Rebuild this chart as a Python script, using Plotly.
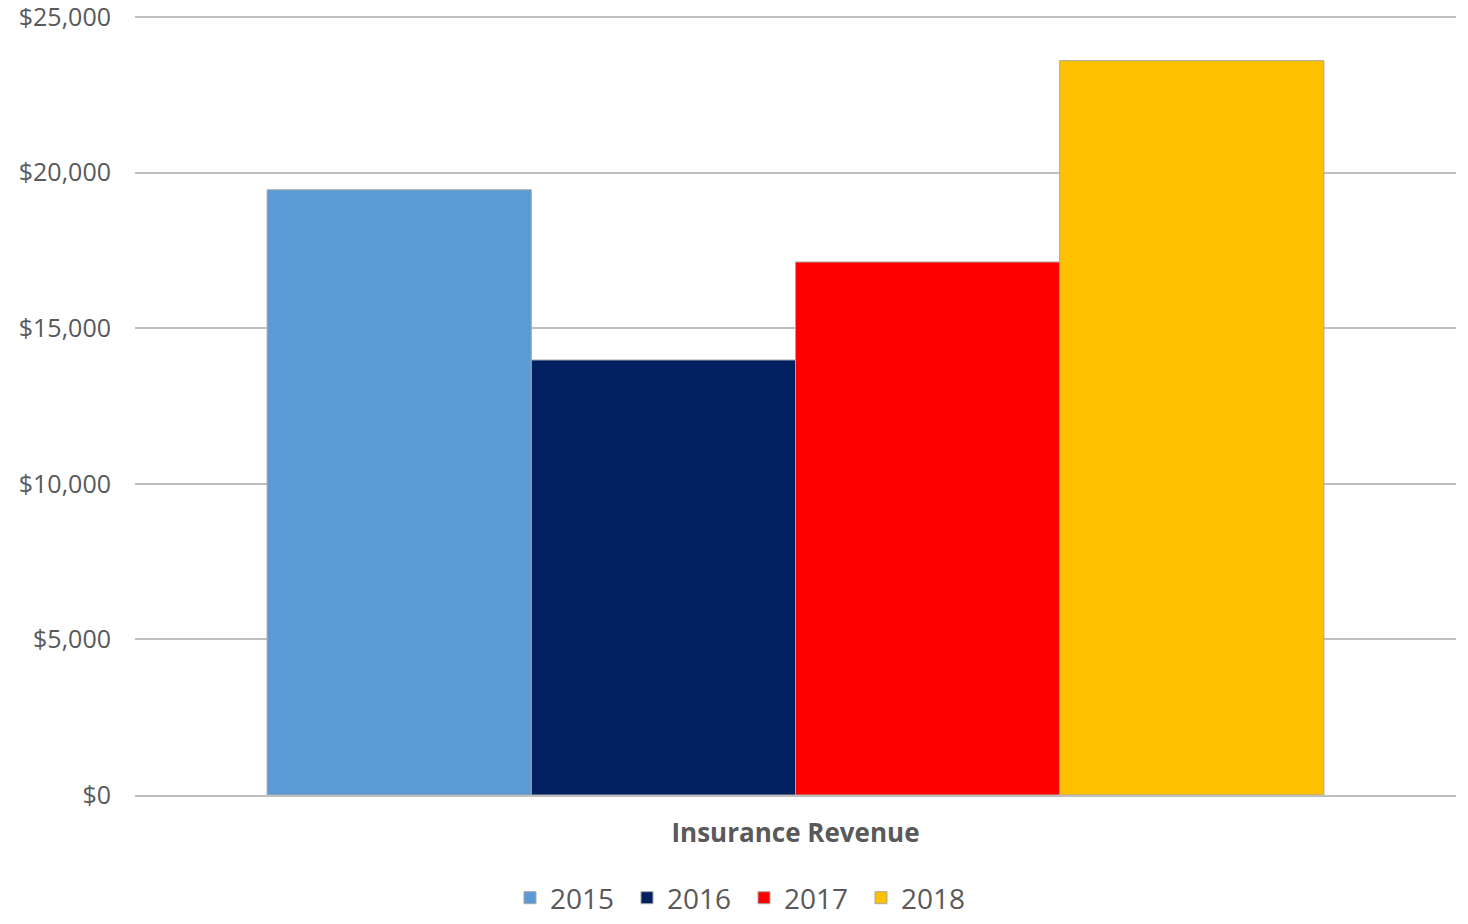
import plotly.graph_objects as go

categories = ["Insurance Revenue"]
years = ["2015", "2016", "2017", "2018"]
values_2015 = [19450]
values_2016 = [13980]
values_2017 = [17130]
values_2018 = [23600]
colors = ["#5b9bd5", "#002060", "#ff0000", "#ffc000"]
y_ticks = [0, 5000, 10000, 15000, 20000, 25000]
y_tick_labels = ["$0", "$5,000", "$10,000", "$15,000", "$20,000", "$25,000"]

series = [values_2015, values_2016, values_2017, values_2018]

fig = go.Figure()
for name, vals, col in zip(years, series, colors):
    fig.add_trace(go.Bar(
        x=categories, y=vals, name=name,
        marker=dict(color=col, line=dict(color="#a6a6a6", width=1)),
    ))

fig.update_layout(
    width=1460, height=916,
    margin=dict(l=127, r=12, t=6, b=129, autoexpand=False),
    paper_bgcolor="white", plot_bgcolor="white",
    barmode="group", bargap=0.2, bargroupgap=0,
    font=dict(family="Open Sans", color="#595959"),
    xaxis=dict(
        showgrid=False, showline=True, linecolor="#bfbfbf", linewidth=2,
        tickfont=dict(size=26, color="#595959", family="Open Sans"),
        ticks="", ticklabelstandoff=14, automargin=False,
        tickvals=categories,
        ticktext=["<b>" + c + "</b>" for c in categories],
    ),
    yaxis=dict(
        range=[0, 25100], tickvals=y_ticks, ticktext=y_tick_labels,
        showgrid=True, gridcolor="#bfbfbf", gridwidth=2,
        zeroline=False, showline=False, automargin=False,
        ticklabeloverflow="allow",
        tickfont=dict(size=25, color="#595959", family="Open Sans"),
        ticklabelstandoff=23,
    ),
    legend=dict(
        orientation="h", x=0.461, xanchor="center", y=-0.1639, yanchor="bottom",
        font=dict(size=28, color="#595959", family="Open Sans"),
        itemwidth=30, traceorder="normal",
        entrywidth=72, entrywidthmode="pixels",
    ),
    showlegend=True,
)

fig.write_html("out.html")
